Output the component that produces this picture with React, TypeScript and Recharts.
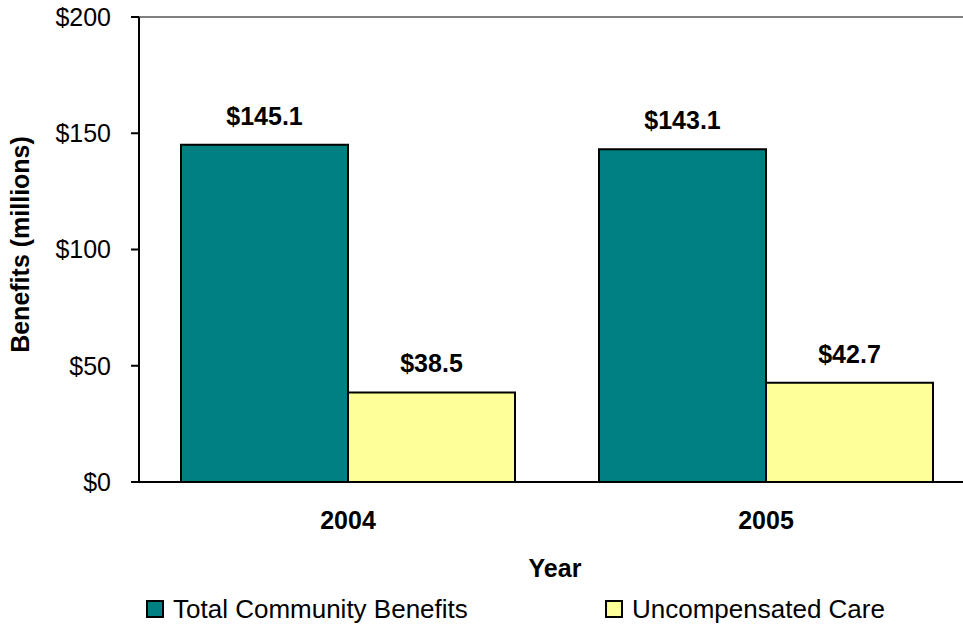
import React from "react";
import {
  Bar,
  BarChart,
  LabelList,
  Legend,
  ReferenceLine,
  XAxis,
  YAxis,
} from "recharts";

const YEARS = ["2004", "2005"];
const TOTAL_BENEFITS = [145.1, 143.1];
const UNCOMPENSATED = [38.5, 42.7];
const Y_TICKS = [0, 50, 100, 150, 200];

const SERIES_NAMES = ["Total Community Benefits", "Uncompensated Care"];

const data = YEARS.map((year, i) => ({
  year,
  total: TOTAL_BENEFITS[i],
  uncomp: UNCOMPENSATED[i],
}));

const FONT = "'Liberation Sans', Arial, sans-serif";

function YLabel(props: any) {
  const { viewBox } = props;
  const cy = viewBox.y + viewBox.height / 2 - 5;
  return (
    <text
      x={20}
      y={cy}
      transform={`rotate(-90, 20, ${cy})`}
      textAnchor="middle"
      dominantBaseline="central"
      fontSize={25}
      fontWeight={700}
      fill="#000"
    >
      Benefits (millions)
    </text>
  );
}

function XLabel(props: any) {
  const { viewBox } = props;
  return (
    <text
      x={555}
      y={viewBox.y + 95}
      textAnchor="middle"
      fontSize={25}
      fontWeight={700}
      fill="#000"
    >
      Year
    </text>
  );
}

function LegendBox(props: any) {
  const payload = props.payload || [];
  const lefts = [146, 605];
  return (
    <div style={{ position: "relative", width: 963, height: 40 }}>
      {payload.map((p: any, i: number) => (
        <div
          key={p.value}
          style={{
            position: "absolute",
            left: lefts[i],
            top: 6,
            display: "flex",
            alignItems: "center",
            fontSize: 26,
            color: "#000",
            lineHeight: "30px",
          }}
        >
          <span
            style={{
              display: "inline-block",
              width: 14,
              height: 14,
              background: p.color,
              border: "2px solid #000",
              marginRight: 9,
            }}
          />
          {p.value}
        </div>
      ))}
    </div>
  );
}

export default function App() {
  return (
    <div
      style={{
        position: "absolute",
        left: 0,
        top: 0,
        width: 963,
        height: 628,
        overflow: "hidden",
        background: "#fff",
        fontFamily: FONT,
      }}
    >
      <BarChart
        width={963}
        height={628}
        data={data}
        margin={{ top: 17, right: -12, left: -2, bottom: 0 }}
        barGap={0}
        style={{ overflow: "visible" }}
      >
        <XAxis
          dataKey="year"
          tickLine={false}
          tickSize={0}
          tickMargin={29}
          axisLine={{ stroke: "#000", strokeWidth: 2 }}
          tick={{ fill: "#000", fontSize: 25, fontWeight: 700 }}
          height={106}
          label={<XLabel />}
        />
        <YAxis
          domain={[0, 200]}
          ticks={Y_TICKS}
          tickFormatter={(v: number) => `$${v}`}
          width={141}
          tickSize={8}
          tickMargin={20}
          axisLine={{ stroke: "#000", strokeWidth: 2 }}
          tickLine={{ stroke: "#000", strokeWidth: 2 }}
          tick={{ fill: "#000", fontSize: 25 }}
          label={<YLabel />}
        />
        <ReferenceLine y={200} stroke="#808080" strokeWidth={2} />
        <Legend
          verticalAlign="bottom"
          height={40}
          content={<LegendBox />}
          wrapperStyle={{ left: 0, width: 963 }}
        />
        <Bar
          dataKey="total"
          name={SERIES_NAMES[0]}
          fill="#008080"
          stroke="#000"
          strokeWidth={2}
          barSize={167}
          isAnimationActive={false}
        >
          <LabelList
            dataKey="total"
            position="top"
            offset={20}
            formatter={(v: any) => `$${Number(v).toFixed(1)}`}
            style={{ fontSize: 25, fontWeight: 700, fill: "#000" }}
          />
        </Bar>
        <Bar
          dataKey="uncomp"
          name={SERIES_NAMES[1]}
          fill="#FFFF99"
          stroke="#000"
          strokeWidth={2}
          barSize={167}
          isAnimationActive={false}
        >
          <LabelList
            dataKey="uncomp"
            position="top"
            offset={20}
            formatter={(v: any) => `$${Number(v).toFixed(1)}`}
            style={{ fontSize: 25, fontWeight: 700, fill: "#000" }}
          />
        </Bar>
      </BarChart>
    </div>
  );
}
